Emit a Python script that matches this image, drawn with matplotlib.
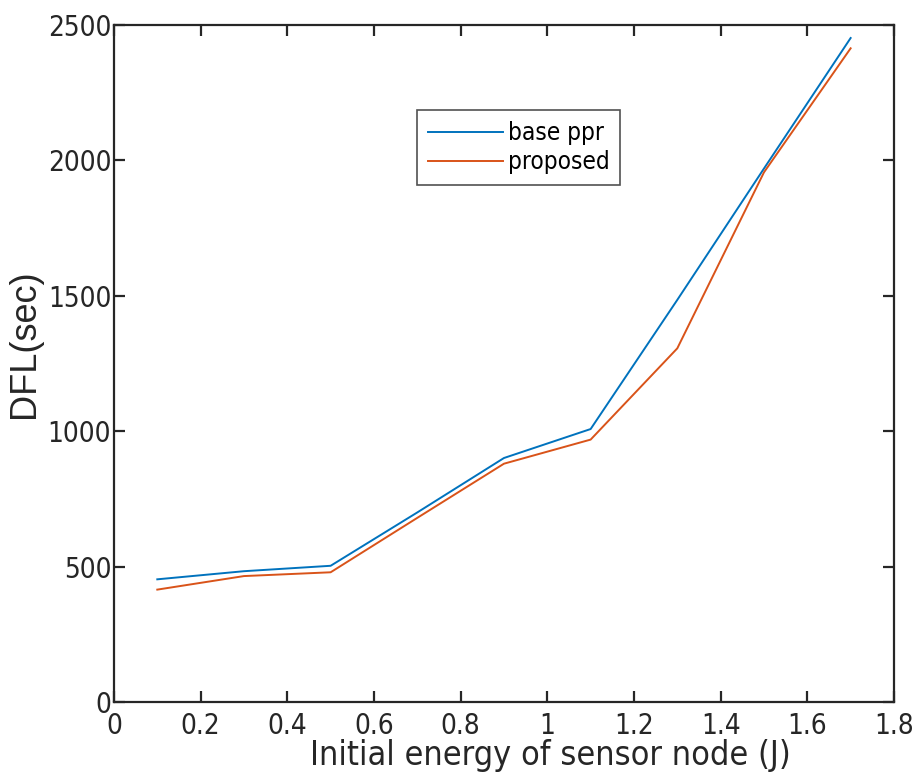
import matplotlib
matplotlib.use("Agg")
import matplotlib.pyplot as plt
from matplotlib import font_manager

energy = [0.1, 0.3, 0.5, 0.7, 0.9, 1.1, 1.3, 1.5, 1.7]
base_ppr = [453, 483, 503, 700, 901, 1008, 1485, 1970, 2452]
proposed = [415, 465, 479, 680, 880, 969, 1306, 1956, 2414]
xticks = [0, 0.2, 0.4, 0.6, 0.8, 1, 1.2, 1.4, 1.6, 1.8]
xticklabels = ["0", "0.2", "0.4", "0.6", "0.8", "1", "1.2", "1.4", "1.6", "1.8"]
yticks = [0, 500, 1000, 1500, 2000, 2500]
series_names = ["base ppr", "proposed"]

fm = font_manager.fontManager
has_cond = any(f.name == "DejaVu Sans" and "condensed" in f.fname.lower()
               for f in fm.ttflist)

if has_cond:
    FAM = ['DejaVu Sans']
    STRETCH = 'condensed'
else:
    FAM = ['Liberation Sans', 'DejaVu Sans']
    STRETCH = 'normal'

plt.rcParams['font.family'] = FAM
plt.rcParams['font.stretch'] = STRETCH

fig = plt.figure(figsize=(9.22, 7.84), dpi=100)
ax = fig.add_axes([0.1236, 0.1046, 0.846, 0.8635])

ax.plot(energy, base_ppr, color='#0072BD', lw=1.4, label=series_names[0])
ax.plot(energy, proposed, color='#D95319', lw=1.4, label=series_names[1])

ax.set_xlim(0, 1.8)
ax.set_ylim(0, 2500)
ax.set_xticks(xticks)
ax.set_xticklabels(xticklabels)
ax.set_yticks(yticks)

spc = '#262626'
for s in ax.spines.values():
    s.set_color(spc)
    s.set_linewidth(1.6)
ax.tick_params(direction='in', top=True, right=True, length=8, width=1.6,
               color=spc, labelcolor=spc, labelsize=20)
ax.tick_params(axis='y', pad=2)
ax.tick_params(axis='x', pad=7)

ax.set_xlabel("Initial energy of sensor node (J)", fontsize=24.5, color=spc)
ax.xaxis.set_label_coords(0.56, -0.055)
ax.set_ylabel("DFL(sec)", fontsize=26, color=spc, family=['Liberation Sans', 'DejaVu Sans'],
              fontstretch='normal')
ax.yaxis.set_label_coords(-0.092, 0.53)

leg = ax.legend(loc='upper left', bbox_to_anchor=(0.388, 0.874), fontsize=17.5,
                fancybox=False, frameon=True, handlelength=3.1, borderpad=0.45,
                labelspacing=0.2, handletextpad=0.2, borderaxespad=0)
leg.get_frame().set_edgecolor(spc)
leg.get_frame().set_linewidth(1.2)
for t in leg.get_texts():
    t.set_color('black')

fig.savefig("out.png", dpi=100)
